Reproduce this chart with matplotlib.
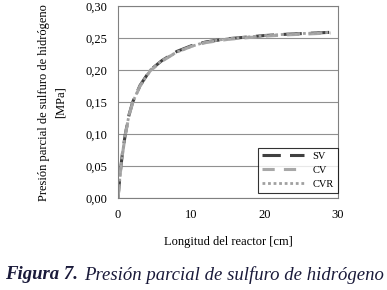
import numpy as np
import matplotlib.pyplot as plt
from matplotlib.ticker import FuncFormatter

# Data
x = [0, 0.3, 0.6, 1.0, 1.5, 2.0, 3.0, 4.4, 6.0, 8.0, 10.0, 12.0, 15.0, 18.0, 20.0, 23.0, 25.0, 27.0, 29.0]
sv = [0.0, 0.04, 0.07, 0.10, 0.13, 0.15, 0.176, 0.200, 0.215, 0.229, 0.238, 0.244, 0.249, 0.252, 0.254, 0.256, 0.257, 0.258, 0.259]
cv = [0.0, 0.038, 0.068, 0.099, 0.129, 0.149, 0.175, 0.199, 0.214, 0.228, 0.237, 0.243, 0.248, 0.251, 0.253, 0.255, 0.256, 0.257, 0.258]
cvr = [0.0, 0.039, 0.069, 0.10, 0.13, 0.15, 0.175, 0.200, 0.215, 0.228, 0.237, 0.244, 0.249, 0.252, 0.254, 0.256, 0.257, 0.258, 0.259]

plt.rcParams['font.family'] = ['Liberation Serif', 'DejaVu Serif']

fig = plt.figure(figsize=(3.87, 2.90), dpi=100)
ax = fig.add_axes([0.305, 0.317, 0.568, 0.662])

ax.plot(x, sv, color='#404040', lw=2.2, ls=(0, (6, 3)), label='SV')
ax.plot(x, cv, color='#a8a8a8', lw=2.2, ls=(0, (4, 3)), label='CV')
ax.plot(x, cvr, color='#a0a0a0', lw=2, ls=(0, (1, 1)), label='CVR')

ax.set_xlim(0, 30)
ax.set_ylim(0, 0.30)
ax.set_xticks([0, 10, 20, 30])
ax.set_yticks(np.arange(0, 0.31, 0.05))
ax.yaxis.set_major_formatter(FuncFormatter(lambda v, p: f'{v:.2f}'.replace('.', ',')))
ax.tick_params(length=0, labelsize=9, pad=8)
ax.grid(axis='y', color='#909090', lw=0.8)
for s in ax.spines.values():
    s.set_color('#808080')
    s.set_linewidth(0.8)

ax.set_xlabel('Longitud del reactor [cm]', fontsize=9, labelpad=11)
ax.set_ylabel('Presión parcial de sulfuro de hidrógeno\n[MPa]', fontsize=9,
              labelpad=13, linespacing=1.6)

leg = ax.legend(loc='lower right', bbox_to_anchor=(1.0, 0.025), fontsize=7.5,
                frameon=True, fancybox=False, handlelength=4, borderaxespad=0,
                labelspacing=0.45, borderpad=0.4)
leg.get_frame().set_edgecolor('black')
leg.get_frame().set_linewidth(0.8)

fig.text(0.013, 0.052, 'Figura 7.', fontsize=13.5, style='italic', weight='bold',
         color='#1a1a3a', va='center')
fig.text(0.217, 0.052, 'Presión parcial de sulfuro de hidrógeno', fontsize=13.5,
         style='italic', color='#1a1a3a', va='center')

fig.savefig('out.png', dpi=100)
